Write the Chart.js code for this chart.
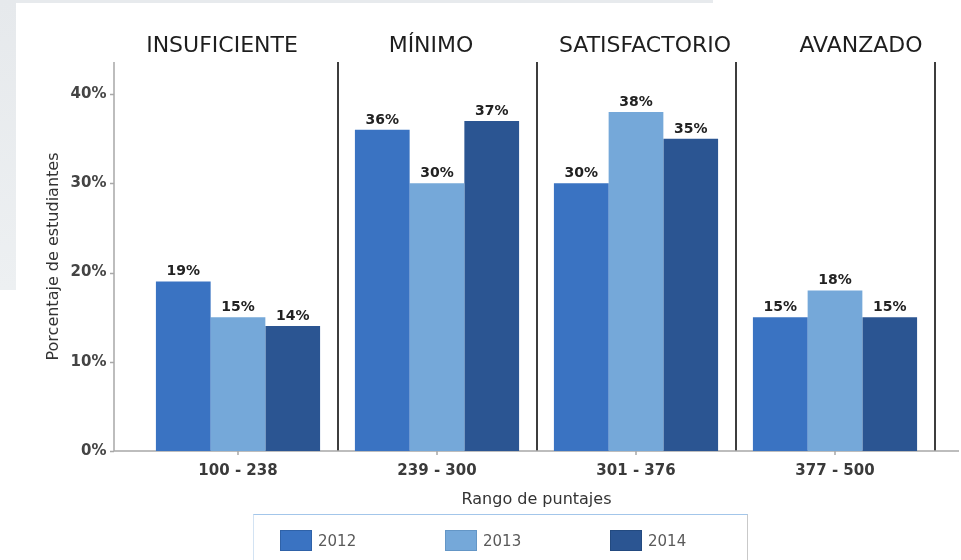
<!DOCTYPE html>
<html lang="es">
<head>
<meta charset="utf-8">
<title>Rango de puntajes</title>
<script src="https://cdn.jsdelivr.net/npm/chart.js@4.4.1/dist/chart.umd.min.js"></script>
<style>
    html, body {
        margin: 0;
        padding: 0;
        background: #ffffff;
        overflow: hidden;
    }
    #wrap {
        position: relative;
        width: 961px;
        height: 560px;
    }
    .shade-top {
        position: absolute;
        left: 0;
        top: 0;
        width: 713px;
        height: 3px;
        background: #e7eaed;
    }
    .shade-left {
        position: absolute;
        left: 0;
        top: 0;
        width: 16px;
        height: 290px;
        background: linear-gradient(#e6e9ec, #edf0f2);
    }
    #scoreChart {
        position: absolute;
        left: 0;
        top: 0;
    }
    #legend {
        position: absolute;
        left: 253px;
        top: 514px;
        width: 495px;
        height: 60px;
        box-sizing: border-box;
        border-top: 1px solid #a3c6ea;
        border-left: 1px solid #d3e3f3;
        border-right: 1px solid #c9c9c9;
        padding: 15px 0 0 26px;
        display: flex;
        align-items: flex-start;
        font-family: "DejaVu Sans", sans-serif;
        font-size: 15px;
        color: #5a5a5a;
    }
    #legend .item {
        flex: 0 0 165px;
        display: flex;
        align-items: center;
    }
    #legend .swatch {
        width: 32px;
        height: 21px;
        box-sizing: border-box;
        margin-right: 6px;
    }
</style>
</head>
<body>
<div id="wrap">
    <div class="shade-top"></div>
    <div class="shade-left"></div>
    <canvas id="scoreChart" width="961" height="560"></canvas>
    <div id="legend"></div>
</div>
<script>
// Rangos de puntaje (eje X) y niveles de desempeño
const categories = ["100 - 238", "239 - 300", "301 - 376", "377 - 500"];
const levels = ["INSUFICIENTE", "MÍNIMO", "SATISFACTORIO", "AVANZADO"];

// Porcentaje de estudiantes por año
const years = ["2012", "2013", "2014"];
const data2012 = [19, 36, 30, 15];
const data2013 = [15, 30, 38, 18];
const data2014 = [14, 37, 35, 15];

const yTicks = [0, 10, 20, 30, 40];

document.addEventListener("DOMContentLoaded", function () {
    const colors = ["#3a73c2", "#75a8d9", "#2b5592"];
    const borders = ["#2f62a8", "#6496c6", "#234a80"];
    const series = [data2012, data2013, data2014];

    const FONT = "'DejaVu Sans', sans-serif";
    const headerX = [222, 431, 645, 861]; // los titulos de nivel no siguen el centro de la categoria

    // ejes, marcas, etiquetas de valor y titulos de nivel
    const decorations = {
        id: "decorations",
        beforeDatasetsDraw(chart) {
            const { ctx, chartArea } = chart;
            const x = chart.scales.x;
            const y = chart.scales.y;
            const axisX = chartArea.left - 24.5;

            ctx.save();
            ctx.strokeStyle = "#a8a8a8";
            ctx.lineWidth = 1.5;
            ctx.beginPath();
            ctx.moveTo(axisX, chartArea.top);
            ctx.lineTo(axisX, chartArea.bottom);
            yTicks.forEach(function (t) {
                const py = Math.round(y.getPixelForValue(t)) + 0.5;
                ctx.moveTo(axisX - 4, py);
                ctx.lineTo(axisX, py);
            });
            ctx.moveTo(axisX, chartArea.bottom);
            ctx.lineTo(chart.width - 2, chartArea.bottom);
            categories.forEach(function (c, i) {
                const px = x.getPixelForValue(i);
                ctx.moveTo(px, chartArea.bottom);
                ctx.lineTo(px, chartArea.bottom + 4);
            });
            ctx.stroke();
            ctx.restore();
        },
        afterDatasetsDraw(chart) {
            const { ctx } = chart;
            ctx.save();
            ctx.fillStyle = "#222222";
            ctx.font = "bold 14px " + FONT;
            ctx.textAlign = "center";
            ctx.textBaseline = "alphabetic";
            chart.data.datasets.forEach(function (ds, di) {
                chart.getDatasetMeta(di).data.forEach(function (bar, i) {
                    ctx.fillText(ds.data[i] + "%", bar.x, bar.y - 6);
                });
            });

            ctx.font = "22px " + FONT;
            ctx.fillStyle = "#1e1e1e";
            levels.forEach(function (name, i) {
                ctx.fillText(name, headerX[i], 52);
            });
            ctx.restore();
        },
    };

    const ctx = document.getElementById("scoreChart").getContext("2d");
    const chart = new Chart(ctx, {
        type: "bar",
        data: {
            labels: categories,
            datasets: years.map(function (year, i) {
                return {
                    label: year,
                    data: series[i],
                    backgroundColor: colors[i],
                    borderColor: borders[i],
                    borderWidth: 0,
                    categoryPercentage: 0.825,
                    barPercentage: 1,
                };
            }),
        },
        options: {
            responsive: false,
            animation: false,
            layout: {
                padding: { top: 62, right: 26.5, bottom: 0, left: 0 },
            },
            plugins: {
                legend: { display: false },
                tooltip: { enabled: false },
            },
            scales: {
                x: {
                    afterFit: function (scale) {
                        scale.height = 109;
                    },
                    border: { display: false },
                    grid: {
                        offset: true,
                        drawTicks: false,
                        lineWidth: 2,
                        color: function (c) {
                            return c.index === 0 ? "rgba(0,0,0,0)" : "#3d3d3d";
                        },
                    },
                    ticks: {
                        padding: 11,
                        maxRotation: 0,
                        color: "#3a3a3a",
                        font: { family: FONT, size: 15, weight: "bold" },
                    },
                    title: {
                        display: true,
                        text: "Rango de puntajes",
                        color: "#333333",
                        padding: { top: 0, bottom: 51 },
                        font: { family: FONT, size: 16 },
                    },
                },
                y: {
                    min: 0,
                    max: 43.6,
                    afterFit: function (scale) {
                        scale.width = 138.5;
                    },
                    border: { display: false },
                    grid: { display: false, drawTicks: false },
                    ticks: {
                        stepSize: 10,
                        includeBounds: false,
                        padding: 32,
                        color: "#444444",
                        font: { family: FONT, size: 15, weight: "bold" },
                        callback: function (v) {
                            return v + "%";
                        },
                    },
                    title: {
                        display: true,
                        text: "Porcentaje de estudiantes",
                        color: "#333333",
                        padding: { top: 44, bottom: 0 },
                        font: { family: FONT, size: 16 },
                    },
                },
            },
        },
        plugins: [decorations],
    });

    // leyenda en HTML, a partir de los datasets
    const legendEl = document.getElementById("legend");
    chart.data.datasets.forEach(function (ds, i) {
        const item = document.createElement("div");
        item.className = "item";
        const sw = document.createElement("span");
        sw.className = "swatch";
        sw.style.background = colors[i];
        sw.style.border = "1px solid " + borders[i];
        const txt = document.createElement("span");
        txt.textContent = ds.label;
        item.appendChild(sw);
        item.appendChild(txt);
        legendEl.appendChild(item);
    });
});
</script>
</body>
</html>
